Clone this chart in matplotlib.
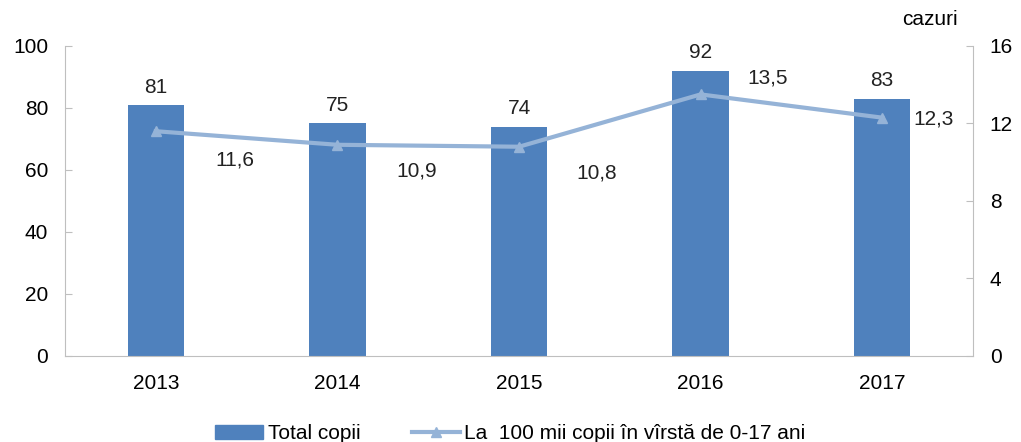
import matplotlib.pyplot as plt
from matplotlib.patches import Patch
from matplotlib.lines import Line2D

plt.rcParams['font.family'] = ['Liberation Sans', 'DejaVu Sans']

years = ["2013", "2014", "2015", "2016", "2017"]
total = [81, 75, 74, 92, 83]
rate = [11.6, 10.9, 10.8, 13.5, 12.3]
rate_labels = ["11,6", "10,9", "10,8", "13,5", "12,3"]

bar_color = "#4F81BD"
line_color = "#95B3D7"
grid_gray = "#BFBFBF"
fs = 15

fig = plt.figure(figsize=(10.21, 4.42), dpi=100)
ax = fig.add_axes([0.0637, 0.1946, 0.8893, 0.7014])
ax2 = ax.twinx()

x = list(range(len(years)))
ax.bar(x, total, width=0.31, color=bar_color, zorder=2)
for xi, v in zip(x, total):
    ax.annotate(str(v), (xi, v), xytext=(0, 6), textcoords="offset points",
                ha="center", va="bottom", fontsize=fs, color="#222222")

ax2.plot(x, rate, color=line_color, lw=3, marker="^", markersize=7,
         markerfacecolor=line_color, markeredgecolor=line_color, zorder=3)
offsets = [(57, -21), (57, -19), (56, -19), (48, 12), (37, -1)]
for xi, v, lab, off in zip(x, rate, rate_labels, offsets):
    ax2.annotate(lab, (xi, v), xytext=off, textcoords="offset points",
                 ha="center", va="center", fontsize=fs, color="#222222")

ax.set_xlim(-0.5, len(years) - 0.5)
ax.set_ylim(0, 100)
ax.set_yticks([0, 20, 40, 60, 80, 100])
ax2.set_ylim(0, 16)
ax2.set_yticks([0, 4, 8, 12, 16])
ax.set_xticks(x)
ax.set_xticklabels(years)

for a in (ax, ax2):
    a.spines["top"].set_visible(False)
    for s in ("left", "right", "bottom"):
        a.spines[s].set_color(grid_gray)
    a.tick_params(axis="y", direction="in", length=5, color=grid_gray,
                  labelsize=fs, pad=12)
ax.tick_params(axis="x", length=0, labelsize=fs, pad=13)
ax.spines["right"].set_visible(False)
ax2.spines["left"].set_visible(False)
ax2.spines["bottom"].set_visible(False)

fig.text(0.911, 0.955, "cazuri", fontsize=fs, ha="center", va="center")

handles = [Patch(color=bar_color),
           Line2D([0], [0], color=line_color, lw=3, marker="^", markersize=7)]
fig.legend(handles, ["Total copii", "La  100 mii copii în vîrstă de 0-17 ani"],
           loc="lower center", bbox_to_anchor=(0.5, -0.045), ncol=2, frameon=False,
           fontsize=fs, handlelength=2.3, handletextpad=0.2, columnspacing=2.5)

fig.savefig("out.png", dpi=100)
